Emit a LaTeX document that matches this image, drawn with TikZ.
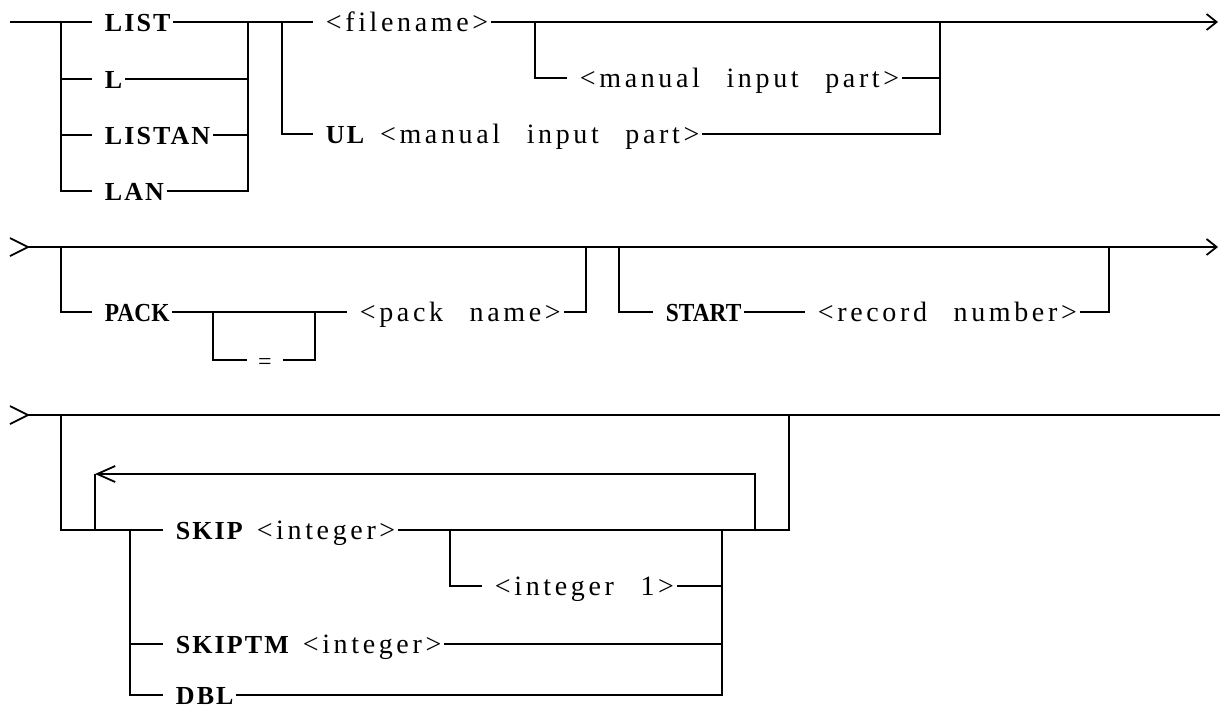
\documentclass[tikz,border=0pt]{standalone}
\usepackage{fontspec}
\setmainfont{Liberation Serif}
\newfontfamily\argfont[LetterSpace=13,WordSpace=2.5]{Liberation Serif}
\newfontfamily\kwspfont[LetterSpace=8]{Liberation Serif}
\newfontfamily\kwnarrowfont[FakeStretch=0.9]{Liberation Serif}
\usetikzlibrary{arrows.meta}
\newcommand{\kwsp}[1]{{\kwspfont\bfseries\fontsize{13}{15}\selectfont #1}}
\tikzset{
	rail/.style={line width=0.9pt},
	endarrow/.style={-{Straight Barb[length=5pt,width=8pt,line width=0.9pt]}},
	looparrow/.style={-{Straight Barb[length=9pt,width=8pt,line width=0.9pt]}},
	term/.style={anchor=west,inner xsep=1pt,inner ysep=0pt,text height=9pt,text depth=0pt,
		execute at begin node=\hspace*{5pt}},
	kw/.style={term,font=\kwnarrowfont\bfseries\fontsize{13}{15}\selectfont},
	kwspaced/.style={term,font=\kwspfont\bfseries\fontsize{13}{15}\selectfont},
	arg/.style={term,font=\argfont\fontsize{14}{16}\selectfont},
	eqbox/.style={inner xsep=5pt,inner ysep=0pt,text height=9pt,text depth=0pt,font=\fontsize{12}{14}\selectfont}
}
\begin{document}
\begin{tikzpicture}[x=0.5pt,y=-0.5pt,rail]
	\useasboundingbox (0,0) rectangle (1220,708);
	% first line
	\coordinate (s1) at (10,22);
	\coordinate (c1) at (61,22);
	\coordinate (d1) at (248,22);
	\coordinate (c2) at (282,22);
	\coordinate (c3) at (535,22);
	\coordinate (d3) at (940,22);
	\coordinate (e1) at (1218,22);
	\node[kwspaced] (list) at (92,22) {LIST};
	\node[kwspaced] (l) at (92,79) {L};
	\node[kwspaced] (listan) at (92,135) {LISTAN};
	\node[kwspaced] (lan) at (92,191) {LAN};
	\node[arg] (filename) at (313,22) {<filename>};
	\node[arg] (manual) at (567,78) {<manual input part>};
	\node[arg] (ul) at (313,134) {\kwsp{UL}\hspace{8pt}<manual input part>};
	\draw (s1) -- (list);
	\draw (c1) |- (l);
	\draw (c1) |- (listan);
	\draw (c1) |- (lan);
	\draw (list) -- (filename);
	\draw (l) -| (d1);
	\draw (listan) -| (d1);
	\draw (lan) -| (d1);
	\draw (c2) |- (ul);
	\draw[endarrow] (filename) -- (e1);
	\draw (c3) |- (manual);
	\draw (manual) -| (d3);
	\draw (ul) -| (d3);
	% second line
	\coordinate (s2) at (28,247);
	\coordinate (c4) at (61,247);
	\coordinate (c5) at (213,312);
	\coordinate (d5) at (315,312);
	\coordinate (d4) at (586,247);
	\coordinate (c6) at (619,247);
	\coordinate (d6) at (1109,247);
	\coordinate (e2) at (1218,247);
	\node[kw] (pack) at (92,312) {PACK};
	\node[eqbox] (eq) at (265,360) {=};
	\node[arg] (packname) at (347,312) {<pack name>};
	\node[kw] (start) at (653,312) {START};
	\node[arg] (recno) at (805,312) {<record number>};
	\draw (10,238) -- (s2) -- (10,256);
	\draw[endarrow] (s2) -- (e2);
	\draw (c4) |- (pack);
	\draw (pack) -- (packname);
	\draw (c5) |- (eq);
	\draw (eq) -| (d5);
	\draw (packname) -| (d4);
	\draw (c6) |- (start);
	\draw (start) -- (recno);
	\draw (recno) -| (d6);
	% third line
	\coordinate (s3) at (28,415);
	\coordinate (e3) at (1220,415);
	\coordinate (c7) at (61,415);
	\coordinate (d7) at (789,415);
	\coordinate (lp) at (95,474);
	\coordinate (lb) at (95,530);
	\coordinate (lr) at (755,530);
	\coordinate (c8) at (130,530);
	\coordinate (c9) at (450,530);
	\coordinate (d9) at (722,530);
	\node[arg] (skip) at (163,530) {\kwsp{SKIP}\hspace{7pt}<integer>};
	\node[arg] (int1) at (482,586) {<integer 1>};
	\node[arg] (skiptm) at (163,644) {\kwsp{SKIPTM}\hspace{7pt}<integer>};
	\node[kwspaced] (dbl) at (163,695) {DBL};
	\draw (10,406) -- (s3) -- (10,424);
	\draw (s3) -- (e3);
	\draw (c7) |- (skip);
	\draw (skip) -| (d7);
	\draw[looparrow] (lr) |- (lp);
	\draw (lp) -- (lb);
	\draw (c8) |- (skiptm);
	\draw (c8) |- (dbl);
	\draw (c9) |- (int1);
	\draw (int1) -| (d9);
	\draw (skiptm) -| (d9);
	\draw (dbl) -| (d9);
\end{tikzpicture}
\end{document}
